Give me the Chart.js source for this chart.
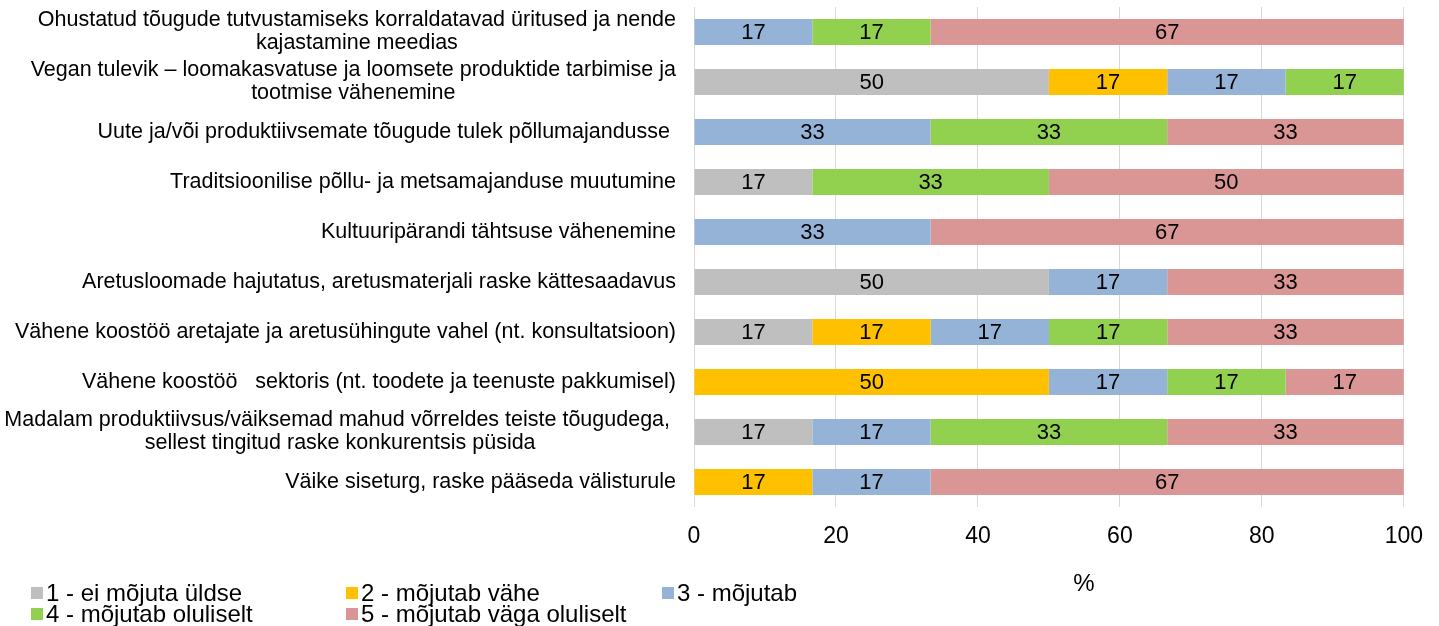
<!DOCTYPE html>
<html>
<head>
  <script src="https://cdn.jsdelivr.net/npm/chart.js@4/dist/chart.umd.min.js"></script>
  <style>
    body { margin: 0; background: #fff; }
  </style>
  <script>
    var categories = [
      ['Ohustatud tõugude tutvustamiseks korraldatavad üritused ja nende', 'kajastamine meedias'],
      ['Vegan tulevik – loomakasvatuse ja loomsete produktide tarbimise ja', 'tootmise vähenemine'],
      ['Uute ja/või produktiivsemate tõugude tulek põllumajandusse '],
      ['Traditsioonilise põllu- ja metsamajanduse muutumine'],
      ['Kultuuripärandi tähtsuse vähenemine'],
      ['Aretusloomade hajutatus, aretusmaterjali raske kättesaadavus'],
      ['Vähene koostöö aretajate ja aretusühingute vahel (nt. konsultatsioon)'],
      ['Vähene koostöö   sektoris (nt. toodete ja teenuste pakkumisel)'],
      ['Madalam produktiivsus/väiksemad mahud võrreldes teiste tõugudega, ', 'sellest tingitud raske konkurentsis püsida'],
      ['Väike siseturg, raske pääseda välisturule']
    ];

    var seriesNames = ['1 - ei mõjuta üldse', '2 - mõjutab vähe', '3 - mõjutab', '4 - mõjutab oluliselt', '5 - mõjutab väga oluliselt'];
    var seriesColors = ['#BFBFBF', '#FFC000', '#95B3D7', '#92D050', '#D99694'];

    var noEffect     = [0, 50, 0, 16.67, 0, 50, 16.67, 0, 16.67, 0];
    var littleEffect = [0, 16.67, 0, 0, 0, 0, 16.67, 50, 0, 16.67];
    var affects      = [16.67, 16.67, 33.33, 0, 33.33, 16.67, 16.67, 16.67, 16.67, 16.67];
    var significant  = [16.67, 16.67, 33.33, 33.33, 0, 0, 16.67, 16.67, 33.33, 0];
    var verySignif   = [66.67, 0, 33.33, 50, 66.67, 33.33, 33.33, 16.67, 33.33, 66.67];

    var xTicks = [0, 20, 40, 60, 80, 100];
    var axisTitle = '%';

    var FONT = '"Liberation Sans", Arial, sans-serif';

    // labels, legend and axis title drawn by hand
    var extrasPlugin = {
      id: 'extras',
      afterDatasetsDraw: function (chart) {
        var ctx = chart.ctx;
        ctx.save();
        ctx.font = '22px ' + FONT;
        ctx.fillStyle = '#000';
        ctx.textAlign = 'center';
        ctx.textBaseline = 'middle';
        chart.data.datasets.forEach(function (ds, di) {
          chart.getDatasetMeta(di).data.forEach(function (bar, i) {
            var v = ds.data[i];
            if (!v) return;
            ctx.fillText(String(Math.round(v)), (bar.x + bar.base) / 2, bar.y + 1);
          });
        });
        ctx.restore();
      },
      afterDraw: function (chart) {
        var ctx = chart.ctx;
        var yScale = chart.scales.y;
        ctx.save();
        ctx.fillStyle = '#000';
        ctx.textBaseline = 'middle';
        ctx.textAlign = 'center';
        ctx.font = '21.5px ' + FONT;
        categories.forEach(function (lines, i) {
          var y = yScale.getPixelForValue(i);
          var w = Math.max.apply(null, lines.map(function (l) { return ctx.measureText(l).width; }));
          var cx = 676 - w / 2;
          lines.forEach(function (line, j) {
            ctx.fillText(line, cx, y + (j - (lines.length - 1) / 2) * 23);
          });
        });

        ctx.font = '24px ' + FONT;
        ctx.fillText(axisTitle, 1084, 584);

        // legend
        var pos = [[31, 593], [346, 593], [662, 593], [31, 614], [346, 614]];
        ctx.textAlign = 'left';
        seriesNames.forEach(function (name, i) {
          ctx.fillStyle = seriesColors[i];
          ctx.fillRect(pos[i][0], pos[i][1] - 6, 12, 12);
          ctx.fillStyle = '#000';
          ctx.fillText(name, pos[i][0] + 15, pos[i][1] + 1);
        });
        ctx.restore();
      }
    };

    function drawGraph(canvasId) {
      var data = [noEffect, littleEffect, affects, significant, verySignif];
      var ctx = document.getElementById(canvasId).getContext('2d');
      new Chart(ctx, {
        type: 'bar',
        data: {
          labels: categories.map(function (c) { return c.join(' '); }),
          datasets: data.map(function (d, i) {
            return {
              label: seriesNames[i],
              data: d,
              backgroundColor: seriesColors[i],
              borderWidth: 0,
              barPercentage: 0.52,
              categoryPercentage: 1
            };
          })
        },
        options: {
          indexAxis: 'y',
          responsive: false,
          animation: false,
          layout: { padding: { top: 7, right: 35, left: 0, bottom: 0 } },
          plugins: {
            legend: { display: false },
            tooltip: { enabled: false }
          },
          scales: {
            x: {
              stacked: true,
              min: 0,
              max: 100,
              afterBuildTicks: function (scale) {
                scale.ticks = xTicks.map(function (v) { return { value: v }; });
              },
              afterFit: function (scale) { scale.height = 119; },
              grid: { color: '#D9D9D9', lineWidth: 1, drawTicks: false },
              border: { display: false },
              ticks: { color: '#000', font: { family: FONT, size: 23 }, padding: 16 }
            },
            y: {
              stacked: true,
              afterFit: function (scale) { scale.width = 694; },
              grid: { display: false },
              border: { display: false },
              ticks: { display: false }
            }
          }
        },
        plugins: [extrasPlugin]
      });
    }

    window.onload = function () {
      drawGraph('chart');
    };
  </script>
</head>
<body>
  <canvas id="chart" width="1439" height="626"></canvas>
</body>
</html>
